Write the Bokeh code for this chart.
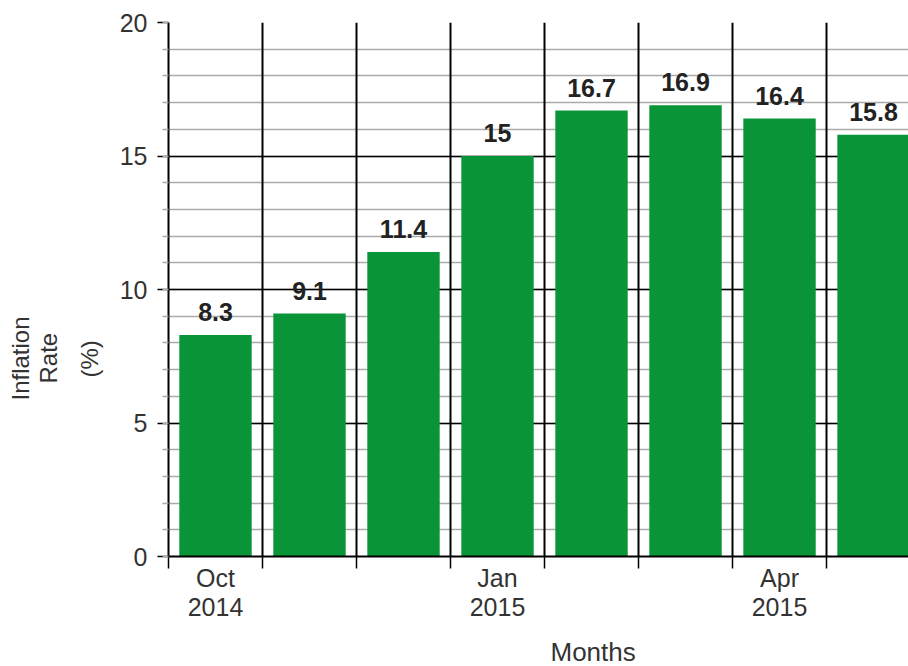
import numpy as np
from bokeh.plotting import figure
from bokeh.models import (ColumnDataSource, FixedTicker, LinearAxis, Range1d, Title, Grid)
from bokeh.core.properties import value
from bokeh.embed import file_html
from bokeh.resources import INLINE

months = ["Oct 2014", "Nov 2014", "Dec 2014", "Jan 2015", "Feb 2015", "Mar 2015", "Apr 2015", "May 2015"]
inflation = [8.3, 9.1, 11.4, 15, 16.7, 16.9, 16.4, 15.8]
value_labels = ["8.3", "9.1", "11.4", "15", "16.7", "16.9", "16.4", "15.8"]
tick_label_months = {0: "Oct\n2014", 3: "Jan\n2015", 6: "Apr\n2015"}
y_ticks = [0, 5, 10, 15, 20]
y_title_lines = ["(%)", "Rate", "Inflation"]   # from the axis outwards
x_title = "Months"

FONT = "Liberation Sans"
BAR = "#0a9438"
TXT = "#333333"

idx = np.arange(len(months))
centers = idx + 0.5
boundaries = list(range(0, len(months) + 1))

src = ColumnDataSource(dict(x=centers, top=inflation, label=value_labels, month=months))

p = figure(frame_width=740, frame_height=534, output_backend="svg", toolbar_location=None,
           x_range=Range1d(0, 7.872), y_range=Range1d(0, 20),
           min_border_left=168, min_border_top=22, min_border_bottom=100,
           min_border_right=0, x_axis_type=None)
p.outline_line_color = None
p.background_fill_color = "white"

# y axis
p.yaxis.ticker = FixedTicker(ticks=y_ticks, minor_ticks=list(range(0, 21)))
p.yaxis.axis_line_color = "black"
p.yaxis.axis_line_width = 2
p.yaxis.major_tick_line_color = "black"
p.yaxis.major_tick_line_width = 1.5
p.yaxis.major_tick_out = 11
p.yaxis.major_tick_in = 0
p.yaxis.minor_tick_line_color = "#aaaaaa"
p.yaxis.minor_tick_line_width = 1.5
p.yaxis.minor_tick_out = 6
p.yaxis.minor_tick_in = 0
p.yaxis.major_label_text_font = FONT
p.yaxis.major_label_text_font_size = "25px"
p.yaxis.major_label_text_color = TXT
p.yaxis.major_label_standoff = 10

# horizontal grid
p.ygrid.grid_line_color = "black"
p.ygrid.grid_line_width = 1.5
p.ygrid.minor_grid_line_color = "#aaaaaa"
p.ygrid.minor_grid_line_width = 1.5

# x axis: labels at month centres, boundary ticks as minor ticks
label_ticks = [float(centers[i]) for i in tick_label_months]
xa = LinearAxis(ticker=FixedTicker(ticks=label_ticks, minor_ticks=boundaries),
                major_label_overrides={float(centers[i]): t for i, t in tick_label_months.items()})
xa.axis_line_color = "black"
xa.axis_line_width = 2
xa.major_tick_line_color = None
xa.major_tick_out = 0
xa.major_tick_in = 0
xa.minor_tick_line_color = "black"
xa.minor_tick_line_width = 1.5
xa.minor_tick_out = 12
xa.minor_tick_in = 0
xa.major_label_text_font = FONT
xa.major_label_text_font_size = "25px"
xa.major_label_text_color = TXT
xa.major_label_text_line_height = 1.05
xa.major_label_standoff = -5
p.add_layout(xa, "below")

# vertical grid lines at boundaries
vg = Grid(dimension=0, ticker=FixedTicker(ticks=boundaries))
vg.grid_line_color = "black"
vg.grid_line_width = 2
p.add_layout(vg)

p.vbar(x="x", top="top", width=0.77, bottom=0, source=src,
       fill_color=BAR, line_color=None)

p.text(x="x", y="top", text="label", source=src, y_offset=-23,
       text_align="center", text_baseline="alphabetic",
       text_font=value(FONT), text_font_size="25px", text_font_style="bold",
       text_color="#222222")

p.add_layout(Title(text=x_title, align="left", offset=382,
                   text_font=FONT, text_font_size="26px", text_font_style="normal",
                   text_color=TXT, standoff=22), "below")

# y title: three centred lines, each its own title panel
y_offsets = [179, 173, 156]
y_standoffs = [27, -2, 0]
for t, off, so in zip(y_title_lines, y_offsets, y_standoffs):
    p.add_layout(Title(text=t, align="left", offset=off,
                       text_font=FONT, text_font_size="24px", text_font_style="normal",
                       text_color=TXT, standoff=so), "left")

open("out.html", "w").write(file_html(p, INLINE))
